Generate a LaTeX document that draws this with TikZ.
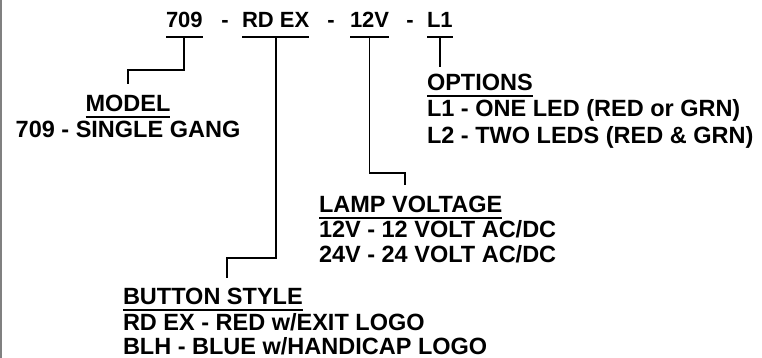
\documentclass[tikz,border=0pt]{standalone}
\usepackage{fontspec}
\setmainfont{Liberation Sans}
\usetikzlibrary{positioning}
\definecolor{framegray}{RGB}{128,128,128}

\begin{document}
\begin{tikzpicture}[
  x=1pt, y=-1pt,
  every node/.style={inner sep=0pt, outer sep=0pt, font=\bfseries\fontsize{23.5}{26}\selectfont},
  code/.style={anchor=base west, font=\bfseries\fontsize{22}{26}\selectfont},
  hyph/.style={anchor=base, font=\bfseries\fontsize{22}{26}\selectfont},
  head/.style={anchor=base west},
  entry/.style={anchor=base west},
  rule/.style={line width=1.8pt},
  conn/.style={line width=1.8pt}
]
  \useasboundingbox (0,0) rectangle (762,358);
  \draw [framegray, line width=2pt] (1,0) -- (1,358);

  % Part number
  \node (c709) [code] at (166,28) {709};
  \node (d1) [hyph] at (225,28) {-};
  \node (crdex) [code] at (242,28) {RD EX};
  \node (d2) [hyph] at (331,28) {-};
  \node (c12v) [code] at (350,28) {12V};
  \node (d3) [hyph] at (410,28) {-};
  \node (cl1) [code] at (427,28) {L1};

  \foreach \part in {c709, crdex, c12v, cl1} {
    \draw [rule] ([yshift=-9pt]\part.base west) -- ([yshift=-9pt]\part.base east);
    \coordinate (\part u) at ([yshift=-9pt]\part.base);
  }

  % Headings
  \node (model) [anchor=base] at (128,111.5) {MODEL};
  \node (model1) [anchor=base] at ([yshift=-26.5pt]model.base) {709 - SINGLE GANG};

  \node (options) [head] at (427,90.5) {OPTIONS};
  \node (opt1) [entry] at ([yshift=-26.5pt]options.base west) {L1 - ONE LED (RED or GRN)};
  \node (opt2) [entry] at ([yshift=-26.5pt]opt1.base west) {L2 - TWO LEDS (RED \& GRN)};

  \node (lamp) [head] at (319,212.5) {LAMP VOLTAGE};
  \node (lamp1) [entry] at ([yshift=-24.5pt]lamp.base west) {12V - 12 VOLT AC/DC};
  \node (lamp2) [entry] at ([yshift=-25.5pt]lamp1.base west) {24V - 24 VOLT AC/DC};

  \node (button) [head] at (123,304.5) {BUTTON STYLE};
  \node (btn1) [entry] at ([yshift=-25.5pt]button.base west) {RD EX - RED w/EXIT LOGO};
  \node (btn2) [entry] at ([yshift=-24.5pt]btn1.base west) {BLH - BLUE w/HANDICAP LOGO};

  \foreach \hdr in {model, options, lamp, button} {
    \draw [rule] ([yshift=-5.5pt]\hdr.base west) -- ([yshift=-5.5pt]\hdr.base east);
  }

  % Leader lines
  \coordinate (modelTip) at ([yshift=11pt]model.north);
  \coordinate (optTip) at (cl1u |- 0,67);
  \coordinate (lampTip) at (405,185);
  \coordinate (btnTip) at (227,278);

  \draw [conn] (c709u) -- ++(0,33) -| (modelTip);
  \draw [conn] (crdexu) -- ++(0,221) -| (btnTip);
  \draw [conn] (c12vu) -- ++(0,136) -| (lampTip);
  \draw [conn] (cl1u) -- (optTip);
\end{tikzpicture}
\end{document}
